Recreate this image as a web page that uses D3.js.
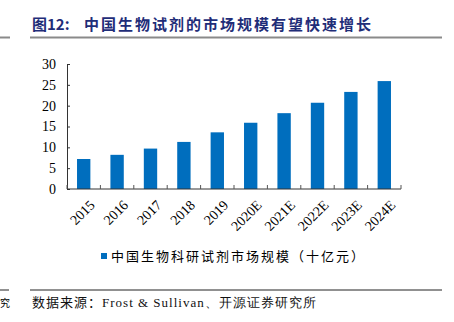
<!DOCTYPE html>
<html><head><meta charset="utf-8">
<script src="https://cdn.jsdelivr.net/npm/d3@7"></script>
<style>body{margin:0;background:#fff}svg{display:block}</style>
</head><body>
<script>
const categories = ["2015","2016","2017","2018","2019","2020E","2021E","2022E","2023E","2024E"];
const values = [7.2, 8.2, 9.7, 11.3, 13.6, 15.9, 18.2, 20.7, 23.3, 25.9];
const yTicks = [0,5,10,15,20,25,30];
const seriesName = "中国生物科研试剂市场规模（十亿元）";
const titleHead = "图12:";
const titleBody = "中国生物试剂的市场规模有望快速增长";
const sourceHead = "数据来源：";
const sourceBody = "Frost & Sullivan、开源证券研究所";

const W = 454, H = 322;
const svg = d3.select("body").append("svg").attr("width", W).attr("height", H);
const serif = "'Liberation Serif','Times New Roman',serif";
const cjk = "'Noto Sans CJK SC',sans-serif";

// header
const t = svg.append("text").attr("x", 32).attr("y", 30).attr("font-family", cjk)
  .attr("font-weight", "bold").attr("font-size", 15).attr("fill", "#1F2D78");
t.append("tspan").text(titleHead);
t.append("tspan").attr("x", 84).attr("letter-spacing", 2.0).text(titleBody);
svg.append("rect").attr("x", 30).attr("y", 36.5).attr("width", 412).attr("height", 2).attr("fill", "#8a8a8a");
svg.append("rect").attr("x", 0).attr("y", 36.5).attr("width", 10).attr("height", 2).attr("fill", "#8a8a8a");

const x = d3.scaleBand().domain(categories).range([67, 401]).paddingInner(0.6).paddingOuter(0.3);
const y = d3.scaleLinear().domain([0, 30]).range([189, 64]);

svg.append("g").selectAll("rect").data(values).join("rect")
  .attr("x", (d,i) => x(categories[i])).attr("width", x.bandwidth())
  .attr("y", d => y(d)).attr("height", d => y(0) - y(d)).attr("fill", "#006EBE");

// y axis
const ya = svg.append("g").attr("transform", "translate(67,0)")
  .call(d3.axisRight(y).tickValues(yTicks).tickSize(3).tickFormat(d3.format("d")));
ya.select(".domain").attr("stroke", "#333");
ya.selectAll(".tick line").attr("stroke", "#333");
ya.selectAll(".tick text").attr("x", -11).attr("text-anchor", "end")
  .attr("font-family", serif).attr("font-size", 14).attr("fill", "#000");

// x axis
const xb = d3.scaleLinear().domain([0, categories.length]).range([67, 401]);
const xa = svg.append("g").attr("transform", "translate(0,189)");
xa.append("line").attr("x1", 67).attr("x2", 401).attr("stroke", "#333");
xa.selectAll("line.t").data(d3.range(categories.length + 1)).join("line").attr("class","t")
  .attr("x1", d => xb(d)).attr("x2", d => xb(d)).attr("y1", 0).attr("y2", -4).attr("stroke", "#555");
xa.selectAll("text").data(categories).join("text")
  .attr("transform", d => `translate(${x(d) + x.bandwidth()/2 + 5},${10}) rotate(-45)`)
  .attr("text-anchor", "end").attr("dy", "0.7em")
  .attr("font-family", serif).attr("font-size", 14).attr("fill", "#000").text(d => d);

// legend
svg.append("rect").attr("x", 101).attr("y", 253).attr("width", 6).attr("height", 6).attr("fill", "#006EBE");
svg.append("text").attr("x", 111).attr("y", 260.5).attr("font-family", cjk).attr("font-size", 13)
  .attr("letter-spacing", 2.0).attr("fill", "#000").text(seriesName);

// footer
svg.append("line").attr("x1", 30).attr("x2", 442).attr("y1", 290).attr("y2", 290).attr("stroke", "#222");
svg.append("line").attr("x1", 0).attr("x2", 9).attr("y1", 290).attr("y2", 290).attr("stroke", "#222");
svg.append("text").attr("x", 0).attr("y", 307).attr("font-family", cjk).attr("font-size", 10).text("究");
const s = svg.append("text").attr("x", 32).attr("y", 307).attr("font-size", 13).attr("fill", "#111");
s.append("tspan").attr("font-family", cjk).attr("letter-spacing", 1.0).text(sourceHead);
s.append("tspan").attr("font-family", serif).attr("letter-spacing", 1.0).text(sourceBody);
</script>
</body></html>
